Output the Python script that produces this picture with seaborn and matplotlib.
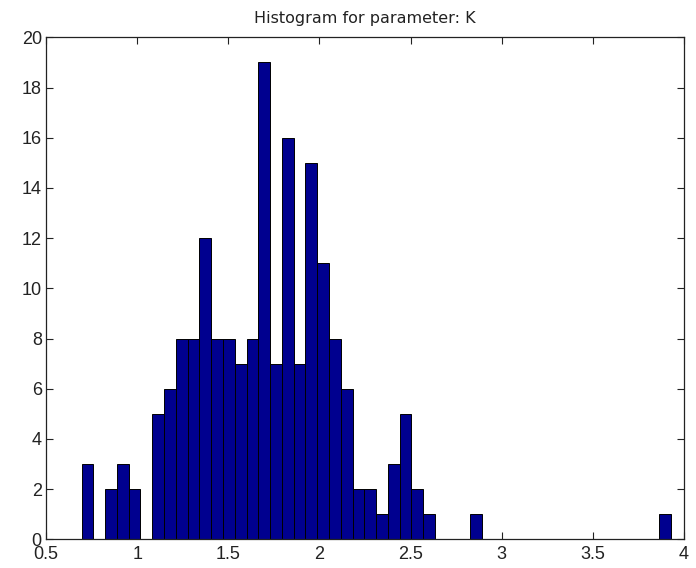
import seaborn as sns
import matplotlib
matplotlib.use("Agg")
from matplotlib import pyplot as plt
import numpy as np
import pandas as pd

# histogram of parameter K: 50 equal bins between the data min and max
k_min, k_max = 0.695, 3.927
n_bins = 50
counts = [3, 0, 2, 3, 2, 0, 5, 6, 8, 8,
          12, 8, 8, 7, 8, 19, 7, 16, 7, 15,
          11, 8, 6, 2, 2, 1, 3, 5, 2, 1,
          0, 0, 0, 1, 0, 0, 0, 0, 0, 0,
          0, 0, 0, 0, 0, 0, 0, 0, 0, 1]
title = "Histogram for parameter: K"

edges = np.linspace(k_min, k_max, n_bins + 1)
df = pd.DataFrame({'K': (edges[:-1] + edges[1:]) / 2, 'count': counts})

sns.set_style("ticks")
plt.rcParams['font.family'] = ['Liberation Sans', 'DejaVu Sans']

fig = plt.figure(figsize=(6.96, 5.68), dpi=100)
ax = fig.add_axes([0.0661, 0.0505, 0.9167, 0.8838])

sns.histplot(data=df, x='K', weights='count', bins=n_bins, binrange=(k_min, k_max),
             color='#00008F', alpha=1, edgecolor='black', linewidth=0.7, ax=ax)

ax.set_xlim(0.5, 4)
ax.set_ylim(0, 20)
ax.set_xticks(np.arange(0.5, 4.01, 0.5))
ax.set_xticklabels(['0.5', '1', '1.5', '2', '2.5', '3', '3.5', '4'])
ax.set_yticks(np.arange(0, 21, 2))
ax.set_xlabel('')
ax.set_ylabel('')
ax.tick_params(direction='in', top=True, right=True, length=5, width=0.8,
               labelsize=13, colors='#222222')
ax.tick_params(axis='x', pad=5)
ax.tick_params(axis='y', pad=3)
for s in ax.spines.values():
    s.set_visible(True)
    s.set_color('#222222')
    s.set_linewidth(0.9)
ax.set_title(title, fontsize=11.5, pad=10, family='DejaVu Sans', color='#222222')

fig.savefig("out.png", dpi=100)
